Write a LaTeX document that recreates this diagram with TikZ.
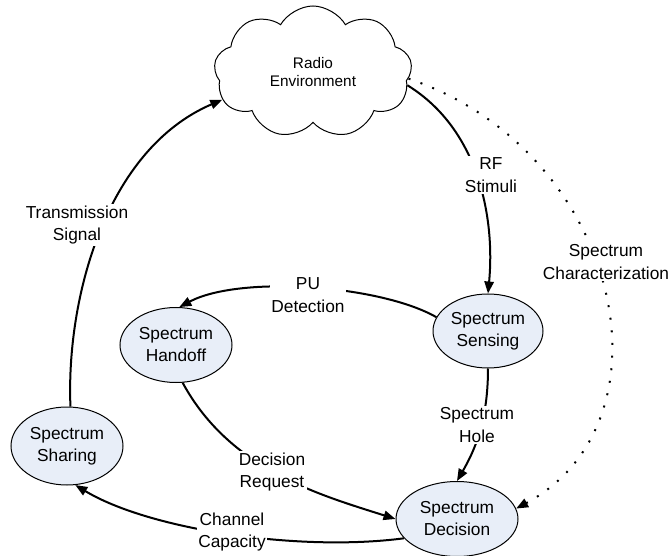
\documentclass[tikz,border=0pt]{standalone}
\usepackage{fontspec}
\setmainfont{Liberation Sans}
\usetikzlibrary{shapes.geometric,shapes.symbols,arrows.meta}
\definecolor{ellfill}{RGB}{232,238,248}
\tikzset{
  stage/.style={ellipse,draw,line width=0.75pt,fill=ellfill,align=center,inner sep=0pt,
    font=\fontsize{13}{16.5}\selectfont},
  conn/.style={line width=1.5pt,-{Triangle[length=9pt,width=7pt]}},
  lab/.style={fill=white,align=center,inner sep=1pt,font=\fontsize{13}{17}\selectfont},
}
\begin{document}
\begin{tikzpicture}[x=0.75pt,y=-0.75pt]
\useasboundingbox (0,0) rectangle (668,556);
\node[cloud,draw,line width=0.75pt,fill=white,cloud puffs=9,cloud puff arc=120,aspect=1.55,
  minimum width=198*0.75pt,minimum height=132*0.75pt,align=center,
  font=\fontsize{11.5}{14}\selectfont] (env) at (313,72) {Radio\\Environment};
\node[stage,minimum width=110*0.75pt,minimum height=74*0.75pt] (sens) at (488,331) {Spectrum\\Sensing};
\node[stage,minimum width=112*0.75pt,minimum height=75*0.75pt] (hand) at (176,345) {Spectrum\\Handoff};
\node[stage,minimum width=112*0.75pt,minimum height=78*0.75pt] (share) at (67,446) {Spectrum\\Sharing};
\node[stage,minimum width=122*0.75pt,minimum height=75*0.75pt] (dec) at (457,519) {Spectrum\\Decision};

% Transmission signal
\draw[conn] (share.85) .. controls (66,300) and (105,150) .. (env.197);
\node[lab] (lts) at (77,225) {Transmission\\Signal};
% RF stimuli
\draw[conn] (env.-8) .. controls (480,130) and (495,220) .. (sens.north);
\node[lab] (lrf) at (491,175) {RF\\Stimuli};
% Spectrum characterization
\draw[line width=1.5pt,dash pattern=on 1.5pt off 8pt,-{Triangle[length=9pt,width=7pt]}]
  (env.-4) .. controls (620,150) and (680,420) .. (dec.10);
\node[lab] (lsc) at (606,262) {Spectrum\\Characterization};
% PU detection
\draw[conn] (sens.165) .. controls (380,285) and (240,275) .. (hand.85);
\node[lab] (lpu) at (308,295) {PU\\Detection};
% Spectrum hole
\draw[conn] (sens.south) .. controls (488,420) and (475,450) .. (dec.north);
\node[lab] (lsh) at (477,425) {Spectrum\\Hole};
% Decision request
\draw[conn] (hand.-80) .. controls (230,470) and (320,495) .. (dec.west);
\node[lab] (ldr) at (272,472) {Decision\\Request};
% Channel capacity
\draw[conn] (dec.200) .. controls (300,552) and (150,530) .. (share.-78);
\node[lab] (lcc) at (232,532) {Channel\\Capacity};
\end{tikzpicture}
\end{document}
